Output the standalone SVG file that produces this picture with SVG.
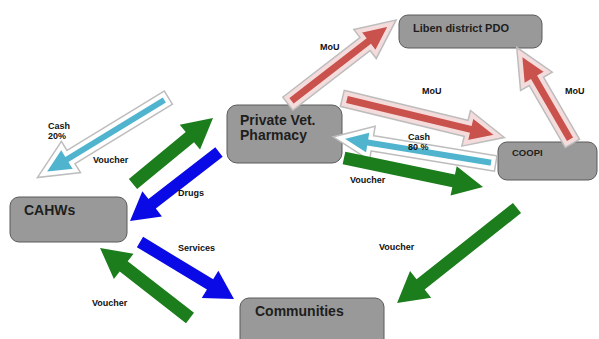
<svg xmlns="http://www.w3.org/2000/svg" width="599" height="339" viewBox="0 0 599 339">
<style>
.node{fill:#999;stroke:#5a5a5a;stroke-width:1}
.nt{font-family:"Liberation Sans",Arial,sans-serif;font-weight:bold;fill:#1e1e1e}
.lbl{font-family:"Liberation Sans",Arial,sans-serif;font-weight:bold;font-size:9px;fill:#111}
.green{fill:#1b7d1b}
.blue{fill:#0a0ae6}
.edge{fill:#bdbdbd;stroke:#bdbdbd;stroke-width:7;stroke-linejoin:miter}
.red{fill:#c9524d;stroke:#f5dcdc;stroke-width:4;stroke-linejoin:miter}
.lblue{fill:#50b4cf;stroke:#ffffff;stroke-width:4;stroke-linejoin:miter}
</style>
<defs>
<polygon id="p1" points="0,-5 114.1,-5 114.1,-14 144.1,0 114.1,14 114.1,5 0,5"/>
<polygon id="p9" points="0,-5 125,-5 125,-13 155,0 125,13 125,5 0,5"/>
<polygon id="p6" points="0,-5.5 97.6,-5.5 97.6,-14 127.6,0 97.6,14 97.6,5.5 0,5.5"/>
<polygon id="p7" points="0,-5.5 127.4,-5.5 127.4,-14 157.4,0 127.4,14 127.4,5.5 0,5.5"/>
<polygon id="p8" points="0,-5.5 71.7,-5.5 71.7,-14 101.7,0 71.7,14 71.7,5.5 0,5.5"/>
</defs>

<g id="node-pdo">
<rect class="node" x="399" y="15" width="143" height="33" rx="9"/>
<text class="nt" x="413" y="32" font-size="11">Liben district PDO</text>
</g>
<g id="node-pharmacy">
<rect class="node" x="227" y="105" width="115" height="58" rx="10"/>
<text class="nt" x="240" y="125" font-size="14">Private Vet.</text>
<text class="nt" x="240" y="140" font-size="14">Pharmacy</text>
</g>
<g id="node-coopi">
<rect class="node" x="498" y="142" width="99" height="38" rx="9"/>
<text class="nt" x="512" y="156" font-size="9.5">COOPI</text>
</g>
<g id="node-cahws">
<rect class="node" x="10" y="197" width="117" height="45" rx="9"/>
<text class="nt" x="24" y="215" font-size="14">CAHWs</text>
</g>
<g id="node-communities">
<rect class="node" x="240" y="298" width="144" height="50" rx="9"/>
<text class="nt" x="255" y="316" font-size="14">Communities</text>
</g>

<g id="connectors">
<g transform="translate(166,99) rotate(148.6)"><use href="#p1" class="edge"/><use href="#p1" class="lblue"/></g>
<g transform="translate(493,163) rotate(-170.7)"><use href="#p9" class="edge"/><use href="#p9" class="lblue"/></g>
<g transform="translate(290,102) rotate(-37.7)"><use href="#p6" class="edge"/><use href="#p6" class="red"/></g>
<g transform="translate(345,99) rotate(13.6)"><use href="#p7" class="edge"/><use href="#p7" class="red"/></g>
<g transform="translate(571,141) rotate(-120.1)"><use href="#p8" class="edge"/><use href="#p8" class="red"/></g>
<polygon class="green" transform="translate(133,184) rotate(-39.5)" points="0,-6.5 73.7,-6.5 73.7,-16 103.7,0 73.7,16 73.7,6.5 0,6.5"/>
<polygon class="green" transform="translate(190,318) rotate(-142.1)" points="0,-6.5 84,-6.5 84,-16 114,0 84,16 84,6.5 0,6.5"/>
<polygon class="green" transform="translate(344,158) rotate(11.8)" points="0,-6.5 112,-6.5 112,-15 142,0 112,15 112,6.5 0,6.5"/>
<polygon class="green" transform="translate(517,208) rotate(141.6)" points="0,-6.5 123,-6.5 123,-17 153,0 123,17 123,6.5 0,6.5"/>
<polygon class="blue" transform="translate(219,152) rotate(142.2)" points="0,-6 84.6,-6 84.6,-16 112.6,0 84.6,16 84.6,6 0,6"/>
<polygon class="blue" transform="translate(140,242) rotate(31.2)" points="0,-6 81.9,-6 81.9,-16 109.9,0 81.9,16 81.9,6 0,6"/>
</g>

<g id="labels">
<text class="lbl" x="48" y="129">Cash</text>
<text class="lbl" x="48" y="139">20%</text>
<text class="lbl" x="93" y="163">Voucher</text>
<text class="lbl" x="178" y="196">Drugs</text>
<text class="lbl" x="178" y="251">Services</text>
<text class="lbl" x="92" y="306">Voucher</text>
<text class="lbl" x="320" y="50">MoU</text>
<text class="lbl" x="422" y="94">MoU</text>
<text class="lbl" x="565" y="94">MoU</text>
<text class="lbl" x="408" y="140">Cash</text>
<text class="lbl" x="408" y="150">80 %</text>
<text class="lbl" x="350" y="183">Voucher</text>
<text class="lbl" x="379" y="250">Voucher</text>
</g>
</svg>
